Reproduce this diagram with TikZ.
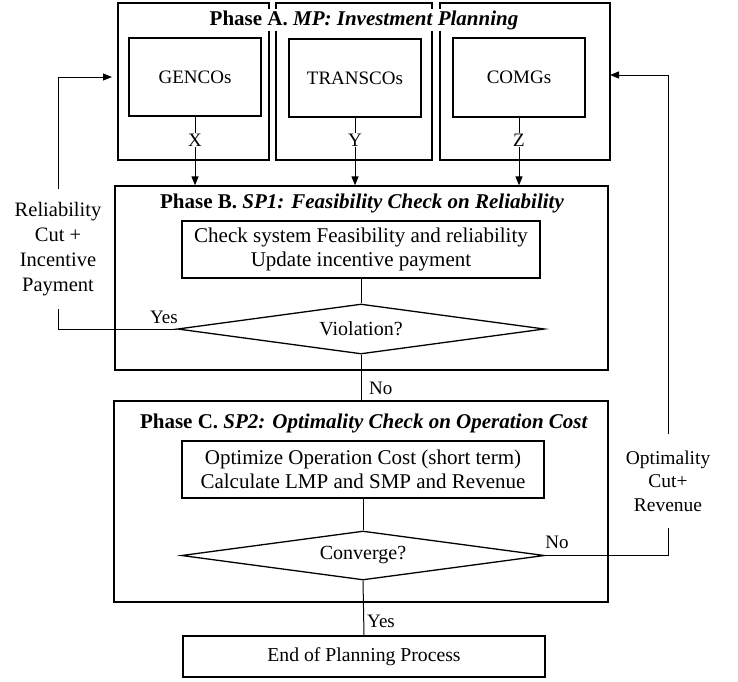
\documentclass[tikz,border=0pt]{standalone}
\usepackage{fontspec}
\setmainfont{Liberation Serif}
\usetikzlibrary{shapes.geometric,arrows.meta}
\begin{document}
\begin{tikzpicture}[x=1pt,y=-1pt,
  txt/.style={font=\fontsize{19}{24}\selectfont},
  bigtxt/.style={font=\fontsize{21}{24}\selectfont},
  box/.style={draw, line width=1.3pt, rectangle, inner sep=0pt, txt, align=center},
  dia/.style={draw, line width=1.3pt, diamond, aspect=7.3, inner sep=0pt, font=\fontsize{20}{24}\selectfont},
  ttl/.style={fill=white, inner xsep=2pt, inner ysep=1pt, font=\fontsize{21}{24}\selectfont\bfseries},
  con/.style={line width=1pt},
  arr/.style={line width=1pt, -{Triangle[length=9pt,width=7pt]}},
  lbl/.style={txt, inner sep=1pt},
  fb/.style={align=center, inner xsep=0pt}
]
\useasboundingbox (0,0) rectangle (738,681);
% Phase A
\node[box, minimum width=151pt, minimum height=157pt] (a1) at (193.5,81.5) {};
\node[box, minimum width=156pt, minimum height=157pt] (a2) at (354,81.5) {};
\node[box, minimum width=170pt, minimum height=157pt] (a3) at (525,81.5) {};
\node[ttl] (ta) at (364,20) {Phase A. \textit{MP: Investment Planning}};
\node[box, minimum width=132pt, minimum height=78pt] (gen) at (195,77) {GENCOs};
\node[box, minimum width=132pt, minimum height=78pt] (tra) at (355,78) {TRANSCOs};
\node[box, minimum width=132pt, minimum height=79pt] (com) at (519,77.5) {COMGs};
% Phase B
\node[box, minimum width=493pt, minimum height=184pt] (pB) at (361.5,278) {};
\node[ttl] (tb) at (362,203) {Phase B. \textit{SP1: Feasibility Check on Reliability}};
\node[box, bigtxt, minimum width=358pt, minimum height=57pt] (inB) at (361,249.5) {Check system Feasibility and reliability\\Update incentive payment};
\node[dia, minimum width=367pt, minimum height=50pt] (dB) at (361,329) {Violation?};
% Phase C
\node[box, minimum width=494pt, minimum height=201pt] (pC) at (361,501.5) {};
\node[ttl] (tc) at (364,423) {Phase C. \textit{SP2: Optimality Check on Operation Cost}};
\node[box, bigtxt, minimum width=362pt, minimum height=57pt] (inC) at (363,469.5) {Optimize Operation Cost (short term)\\Calculate LMP and SMP and Revenue};
\node[dia, minimum width=363pt, minimum height=49pt] (dC) at (363,555.5) {Converge?};
% End
\node[box, font=\fontsize{19.7}{24}\selectfont, minimum width=362pt, minimum height=41pt] (endn) at (364,656.5) {End of Planning Process};
% feedback texts
\node[fb, font=\fontsize{20.5}{25}\selectfont, inner ysep=13pt] (relfb) at (58,249) {Reliability\\Cut +\\Incentive\\Payment};
\node[fb, font=\fontsize{19.5}{23.5}\selectfont, inner ysep=16pt] (optfb) at (668,481) {Optimality\\Cut+\\Revenue};
\coordinate (inA1) at (112,77);
\coordinate (inA3) at (610,75);
% connectors A -> B
\draw[arr] (gen.south) -- (gen.south |- pB.north) node[lbl, fill=white, pos=0.34] (lx) {X};
\draw[arr] (tra.south) -- (tra.south |- pB.north) node[lbl, fill=white, pos=0.33] (ly) {Y};
\draw[arr] (com.south) -- (com.south |- pB.north) node[lbl, fill=white, pos=0.33] (lz) {Z};
% inside B
\draw[con] (inB.south) -- (dB.north);
\draw[con] (dB.south) -- (dB.south |- pC.north);
\node[lbl, anchor=west] (no1) at (368,388) {No};
% inside C
\draw[con] (inC.south) -- (dC.north);
\draw[con] (dC.south) -- (endn.north);
\node[lbl, anchor=west] (yes2) at (366,621) {Yes};
% feedback left
\draw[con] (dB.west) -| (relfb.south);
\draw[arr] (relfb.north) |- (inA1);
\node[lbl] (yes1) at (164,317) {Yes};
% feedback right
\draw[con] (dC.east) -| (optfb.south);
\draw[arr] (optfb.north) |- (inA3);
\node[lbl] (no2) at (557,542) {No};
\end{tikzpicture}
\end{document}
